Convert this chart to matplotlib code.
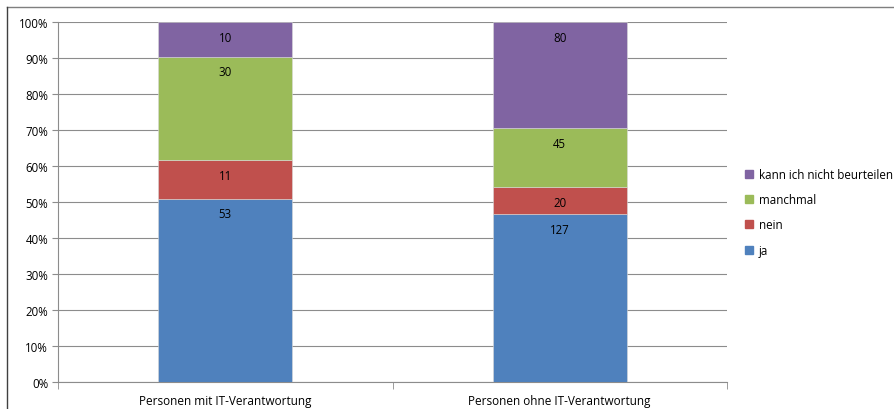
import numpy as np
import matplotlib.pyplot as plt
from matplotlib.lines import Line2D

plt.rcParams['font.family'] = ['Open Sans', 'DejaVu Sans']

# Data
categories = ['Personen mit IT-Verantwortung', 'Personen ohne IT-Verantwortung']
series = ['ja', 'nein', 'manchmal', 'kann ich nicht beurteilen']
ja = [53, 127]
nein = [11, 20]
manchmal = [30, 45]
kann_nicht = [10, 80]
colors = ['#4F81BD', '#C0504D', '#9BBB59', '#8064A2']

values = np.array([ja, nein, manchmal, kann_nicht], dtype=float)
totals = values.sum(axis=0)
shares = values / totals * 100

fig = plt.figure(figsize=(8.94, 4.10), dpi=100)
ax = fig.add_axes([58 / 894, 27 / 410, 669 / 894, 360 / 410])

x = np.arange(len(categories))
bottom = np.zeros(len(categories))
for i, name in enumerate(series):
    bars = ax.bar(x, shares[i], 0.4, bottom=bottom, color=colors[i],
                  edgecolor='#d9d9d9', linewidth=0.4, zorder=3, label=name)
    for j, b in enumerate(bars):
        top = bottom[j] + shares[i][j]
        ax.annotate(str(int(values[i][j])), (x[j], top), xytext=(0, -11),
                    textcoords='offset points', ha='center', va='center',
                    fontsize=8.3, color='black', zorder=4)
    bottom += shares[i]

ax.set_xlim(-0.5, 1.5)
ax.set_ylim(0, 100)
ax.set_yticks(np.arange(0, 101, 10))
ax.set_yticklabels([f'{v}%' for v in range(0, 101, 10)], fontsize=8.3)
ax.yaxis.grid(True, color='#8c8c8c', linewidth=0.8, zorder=0)
ax.tick_params(axis='y', direction='out', length=4, color='#8c8c8c', pad=3)

ax.set_xticks(x)
ax.set_xticklabels(categories, fontsize=8.5)
ax.tick_params(axis='x', which='major', length=0, pad=9)
ax.set_xticks([-0.5, 0.5, 1.5], minor=True)
ax.tick_params(axis='x', which='minor', direction='out', length=5, color='#8c8c8c')

for s in ['top', 'right']:
    ax.spines[s].set_visible(False)
for s in ['left', 'bottom']:
    ax.spines[s].set_color('#8c8c8c')

# legend (reversed order, like the source)
leg_handles = [Line2D([], [], marker='s', linestyle='none', markersize=6,
                      markerfacecolor=colors[i], markeredgecolor=colors[i])
               for i in range(len(series))][::-1]
fig.legend(leg_handles, series[::-1], loc='upper left',
           bbox_to_anchor=(744 / 894, 1 - 169 / 410), frameon=False,
           fontsize=8.4, handlelength=0.8, handletextpad=0.45, labelspacing=1.05,
           borderaxespad=0, borderpad=0)

# outer frame (top and left edges visible)
fig.add_artist(Line2D([7 / 894, 1], [1 - 8 / 410, 1 - 8 / 410],
                      transform=fig.transFigure, color='#7f7f7f', linewidth=1))
fig.add_artist(Line2D([7 / 894, 7 / 894], [0, 1 - 8 / 410],
                      transform=fig.transFigure, color='#404040', linewidth=1))

fig.savefig('out.png', dpi=100)
